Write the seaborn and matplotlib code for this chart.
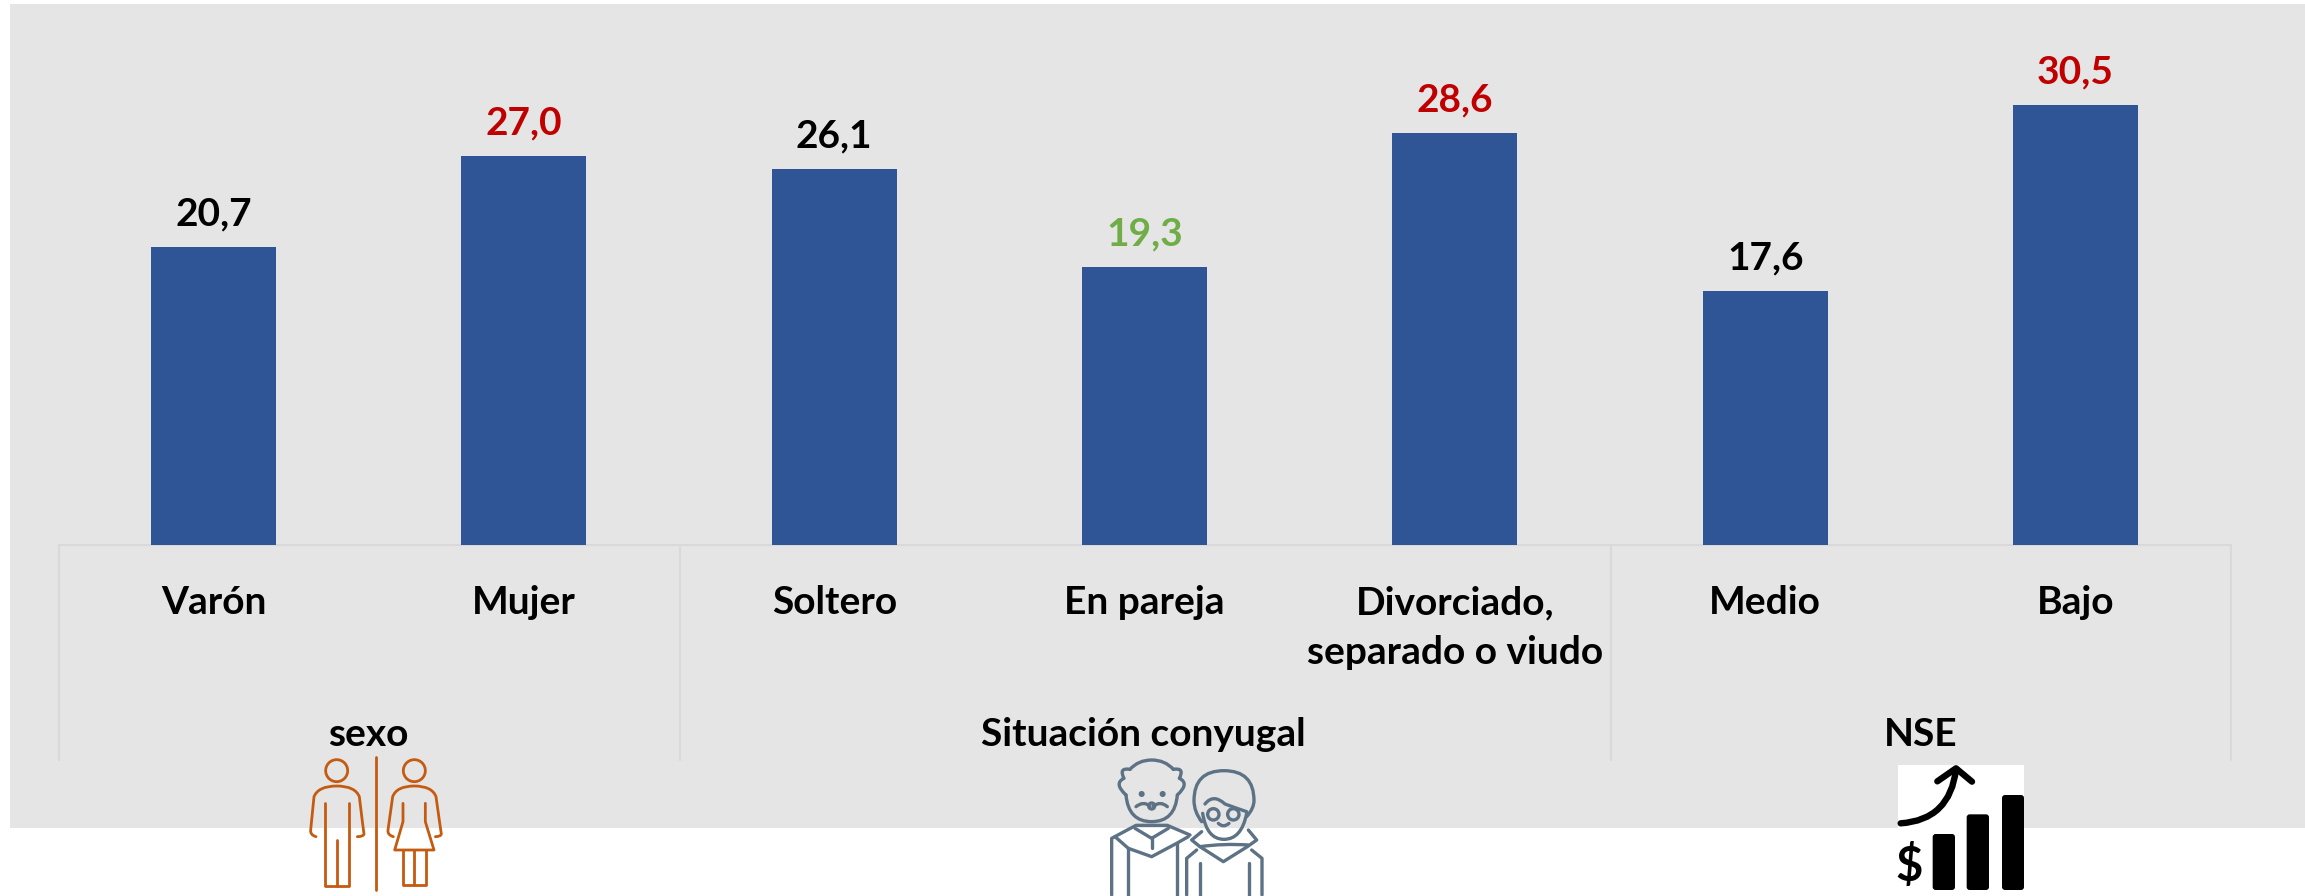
"""Bar chart by sexo, situacion conyugal and NSE, with the three small icons under the groups."""

import matplotlib
matplotlib.use("Agg")
import matplotlib.pyplot as plt
import pandas as pd
import seaborn as sns
from matplotlib.patches import Circle, FancyBboxPatch, PathPatch, Rectangle
from matplotlib.path import Path


# Chart values.
categories = ["Varón", "Mujer", "Soltero", "En pareja", "Divorciado,\nseparado o viudo", "Medio", "Bajo"]
values = [20.7, 27.0, 26.1, 19.3, 28.6, 17.6, 30.5]
value_colors = ["black", "#C00000", "black", "#70AD47", "#C00000", "black", "#C00000"]
groups = ["sexo", "Situación conyugal", "NSE"]

FONT = "Lato"
PANEL = "#E5E5E5"
GRID = "#D9D9D9"
BAR = "#2F5597"
W, H = 2305, 896


def stroke(ax, origin, pts, color, lw, curved=False):
    # Points are in 3x zoom coordinates, relative to the icon's crop origin.
    xy = [(origin[0] + x / 3, origin[1] + y / 3) for x, y in pts]
    if curved:
        codes = [Path.MOVETO] + [Path.CURVE3] * (len(xy) - 1)
    else:
        codes = [Path.MOVETO] + [Path.LINETO] * (len(xy) - 1)
    ax.add_patch(PathPatch(Path(xy, codes), fill=False, edgecolor=color, lw=lw,
                           capstyle="round", joinstyle="round", zorder=3))


def ring(ax, origin, x, y, r, color, lw):
    ax.add_patch(Circle((origin[0] + x / 3, origin[1] + y / 3), r / 3, fill=False,
                        edgecolor=color, lw=lw, zorder=3))


def draw_people(ax):
    o, c, lw = (250, 680), "#C55A11", 2.0
    stroke(ax, o, [(377, 232), (377, 630)], c, lw)
    # Man.
    ring(ax, o, 260, 272, 33, c, lw)
    stroke(ax, o, [(198, 470), (180, 465), (182, 450), (192, 350), (192, 350), (205, 318), (260, 318),
                   (315, 318), (328, 350), (340, 450), (342, 462), (340, 470), (322, 470)], c, lw, curved=True)
    stroke(ax, o, [(226, 370), (226, 618), (296, 618), (296, 370)], c, lw)
    stroke(ax, o, [(260, 480), (260, 618)], c, lw)
    # Woman.
    ring(ax, o, 493, 272, 33, c, lw)
    stroke(ax, o, [(430, 470), (412, 465), (414, 450), (428, 350), (428, 350), (440, 318), (493, 318),
                   (546, 318), (558, 350), (572, 450), (574, 462), (572, 470), (556, 470)], c, lw, curved=True)
    stroke(ax, o, [(459, 370), (459, 425), (434, 510), (552, 510), (526, 425), (526, 370)], c, lw)
    stroke(ax, o, [(458, 510), (458, 615), (528, 615), (528, 510)], c, lw)
    stroke(ax, o, [(493, 510), (493, 615)], c, lw)


def draw_couple(ax):
    o, c, lw = (1050, 680), "#5D7285", 2.4
    # Old man, head and hair.
    stroke(ax, o, [(240, 268), (265, 240), (305, 240), (345, 240), (370, 268)], c, lw, curved=True)
    stroke(ax, o, [(240, 268), (205, 262), (222, 295), (190, 310), (228, 345)], c, lw, curved=True)
    stroke(ax, o, [(370, 268), (405, 262), (388, 295), (420, 310), (382, 345)], c, lw, curved=True)
    stroke(ax, o, [(228, 345), (235, 425), (305, 425), (375, 425), (382, 345)], c, lw, curved=True)
    stroke(ax, o, [(258, 380), (280, 362), (300, 378)], c, lw, curved=True)
    stroke(ax, o, [(310, 378), (332, 362), (352, 380)], c, lw, curved=True)
    ring(ax, o, 305, 378, 9, c, lw)
    for x in (275, 338):
        ring(ax, o, x, 342, 4, c, lw)
    # Old man, body.
    stroke(ax, o, [(185, 645), (185, 475), (258, 436), (352, 436), (420, 465)], c, lw)
    stroke(ax, o, [(195, 470), (235, 505), (305, 530), (380, 490), (415, 470)], c, lw)
    stroke(ax, o, [(255, 445), (305, 475), (355, 445)], c, lw)
    stroke(ax, o, [(305, 470), (305, 505)], c, lw)
    stroke(ax, o, [(235, 505), (235, 645)], c, lw)
    stroke(ax, o, [(380, 490), (380, 645)], c, lw)
    # Old woman, hair and face.
    stroke(ax, o, [(455, 425), (432, 395), (432, 362), (432, 272), (522, 272), (612, 272), (612, 362),
                   (612, 385), (590, 410)], c, lw, curved=True)
    stroke(ax, o, [(465, 372), (490, 340), (525, 372), (560, 385), (590, 395)], c, lw, curved=True)
    stroke(ax, o, [(458, 400), (470, 478), (522, 478), (575, 478), (590, 400)], c, lw, curved=True)
    ring(ax, o, 490, 403, 17, c, lw)
    ring(ax, o, 550, 403, 17, c, lw)
    stroke(ax, o, [(505, 430), (520, 445), (537, 430)], c, lw, curved=True)
    # Old woman, scarf and body.
    stroke(ax, o, [(455, 455), (425, 480), (450, 500), (520, 545), (592, 500), (620, 480), (595, 450)], c, lw)
    stroke(ax, o, [(450, 500), (520, 490), (595, 495)], c, lw, curved=True)
    stroke(ax, o, [(410, 645), (410, 535), (440, 510)], c, lw)
    stroke(ax, o, [(605, 510), (636, 535), (636, 645)], c, lw)
    stroke(ax, o, [(450, 550), (450, 645)], c, lw)
    stroke(ax, o, [(597, 550), (597, 645)], c, lw)


def draw_money(ax):
    o = (1850, 680)
    ax.add_patch(Rectangle((o[0] + 144 / 3, o[1] + 255 / 3), 378 / 3, 375 / 3, color="white", lw=0, zorder=2))
    for x0, x1, top in [(248, 315, 462), (350, 417, 403), (456, 522, 345)]:
        ax.add_patch(FancyBboxPatch((o[0] + x0 / 3 + 3, o[1] + top / 3 + 3), (x1 - x0) / 3 - 6, (630 - top) / 3 - 6,
                                    boxstyle="round,pad=3", color="black", lw=0, zorder=3))
    stroke(ax, o, [(152, 430), (300, 420), (318, 268)], "black", 4.6, curved=True)
    stroke(ax, o, [(262, 304), (318, 265), (366, 305)], "black", 4.6)
    ax.text(o[0] + 178 / 3, o[1] + 560 / 3, "$", fontsize=34, fontweight="bold", family=FONT,
            color="black", ha="center", va="center", zorder=3)


sns.set_theme(style="white")
plt.rcParams["font.family"] = [FONT, "DejaVu Sans"]

fig = plt.figure(figsize=(W / 100, H / 100), dpi=100, facecolor="white")

# Background layer in pixel coordinates: panel, category frame, group names, icons.
deco = fig.add_axes([0, 0, 1, 1], zorder=0)
deco.set_xlim(0, W)
deco.set_ylim(H, 0)
deco.axis("off")
deco.add_patch(Rectangle((10, 4), W - 10, 824, color=PANEL, lw=0, zorder=0))

left, step, base = 59, 310.3, 545
deco.plot([left, left + 7 * step], [base, base], color=GRID, lw=1.5, zorder=1)
for n in [0, 2, 5, 7]:
    deco.plot([left + n * step] * 2, [base, 760], color=GRID, lw=1.5, zorder=1)
for name, x in zip(groups, [368, 1143, 1921]):
    deco.text(x, 735, name, fontsize=28, fontweight="bold", ha="center", va="center", color="black", zorder=2)

draw_people(deco)
draw_couple(deco)
draw_money(deco)

# Bars.
ax = fig.add_axes([(left - 0.5) / W, 1 - base / H, 7 * step / W, (base - 4) / H], zorder=1)
ax.patch.set_alpha(0)
df = pd.DataFrame({"categoria": categories, "valor": values})
sns.barplot(data=df, x="categoria", y="valor", color=BAR, saturation=1, width=0.403, linewidth=0, ax=ax)
ax.set_xlim(-0.5, 6.5)
ax.set_ylim(0, (base - 4) / 14.42)
ax.set_xlabel("")
ax.set_ylabel("")
ax.set_yticks([])
sns.despine(ax=ax, left=True, bottom=True)
ax.tick_params(axis="x", length=0, pad=29)
for tick in ax.get_xticklabels():
    tick.set_fontsize(28)
    tick.set_fontweight("bold")
    tick.set_color("black")
    tick.set_linespacing(1.5)

labels = ax.bar_label(ax.containers[0], labels=[f"{v:.1f}".replace(".", ",") for v in values],
                      padding=11, fontsize=28, fontweight="bold")
for label, color in zip(labels, value_colors):
    label.set_color(color)

fig.savefig("out.png", dpi=100, facecolor="white")
